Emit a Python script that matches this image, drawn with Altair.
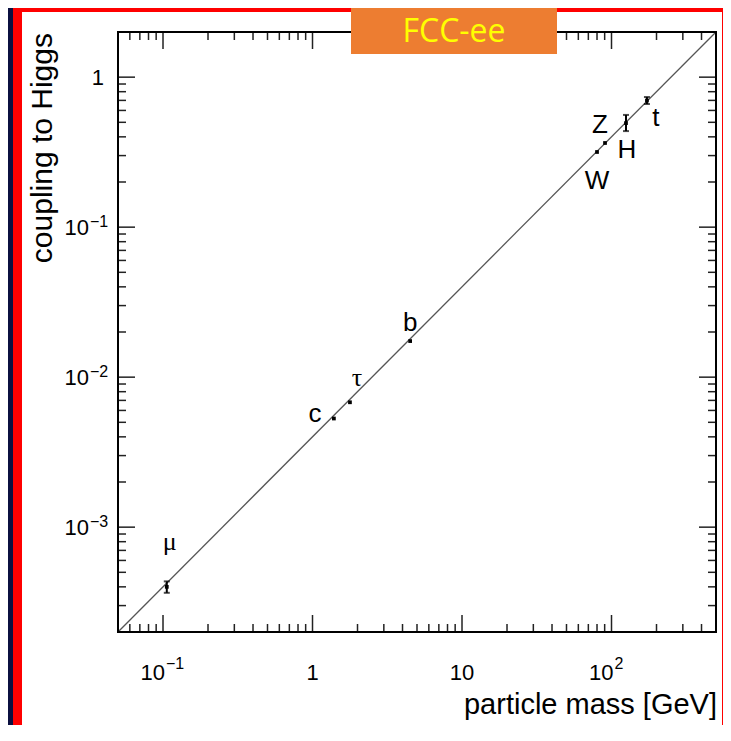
import altair as alt
import pandas as pd

# ---------------- data ----------------
particle = ["μ", "c", "τ", "b", "W", "Z", "H", "t"]
mass_gev = [0.106, 1.39, 1.78, 4.5, 80.0, 90.5, 125.0, 172.6]
coupling = [4.0e-4, 5.3e-3, 6.8e-3, 0.0174, 0.317, 0.364, 0.494, 0.698]

err_particle = ["μ", "H", "t"]
err_mass = [0.106, 125.0, 172.6]
err_low = [3.65e-4, 0.437, 0.662]
err_high = [4.35e-4, 0.56, 0.737]

line_mass = [0.05, 500.0]
line_coupling = [2.0e-4, 2.0]

x_major = [0.1, 1, 10, 100]
x_major_base = ["10", "1", "10", "10"]
x_major_exp = ["−1", "", "", "2"]
x_minor = [0.06, 0.07, 0.08, 0.09,
           0.2, 0.3, 0.4, 0.5, 0.6, 0.7, 0.8, 0.9,
           2, 3, 4, 5, 6, 7, 8, 9,
           20, 30, 40, 50, 60, 70, 80, 90,
           200, 300, 400]

y_major = [0.001, 0.01, 0.1, 1]
y_major_base = ["10", "10", "10", "1"]
y_major_exp = ["−3", "−2", "−1", ""]
y_minor = [3e-4, 4e-4, 5e-4, 6e-4, 7e-4, 8e-4, 9e-4,
           2e-3, 3e-3, 4e-3, 5e-3, 6e-3, 7e-3, 8e-3, 9e-3,
           0.02, 0.03, 0.04, 0.05, 0.06, 0.07, 0.08, 0.09,
           0.2, 0.3, 0.4, 0.5, 0.6, 0.7, 0.8, 0.9]

x_title = "particle mass [GeV]"
y_title = "coupling to Higgs"
badge_text = "FCC-ee"

# ---------------- layout / style ----------------
W, H = 598, 600
FONT = "Liberation Sans"
XS = alt.Scale(type="log", domain=[0.05, 500], nice=False)
YS = alt.Scale(type="log", domain=[2e-4, 2], nice=False)
one = pd.DataFrame({"a": [0]})

points = pd.DataFrame({"particle": particle, "mass": mass_gev, "coupling": coupling})
errs = pd.DataFrame({"particle": err_particle, "mass": err_mass, "lo": err_low, "hi": err_high})
line_df = pd.DataFrame({"mass": line_mass, "coupling": line_coupling})
xmaj = pd.DataFrame({"v": x_major, "base": x_major_base, "exp": x_major_exp})
ymaj = pd.DataFrame({"v": y_major, "base": y_major_base, "exp": y_major_exp})


def box(x0, x1, y0, y1, **kw):
    return alt.Chart(one).mark_rect(**kw).encode(
        x=alt.value(x0), x2=alt.value(x1), y=alt.value(y0), y2=alt.value(y1))


def xticks(vals, y0, y1):
    return alt.Chart(pd.DataFrame({"v": vals})).mark_rule(color="#222", strokeWidth=1.5).encode(
        x=alt.X("v:Q", scale=XS, axis=None), y=alt.value(y0), y2=alt.value(y1))


def yticks(vals, x0, x1):
    return alt.Chart(pd.DataFrame({"v": vals})).mark_rule(color="#222", strokeWidth=1.5).encode(
        y=alt.Y("v:Q", scale=YS, axis=None), x=alt.value(x0), x2=alt.value(x1))


layers = []
# slide background pieces
layers.append(box(-105, 640, -40, 760, color="#ff0000"))
layers.append(box(-96, 604, -20, 720, color="#ffffff"))

# diagonal line
layers.append(alt.Chart(line_df).mark_line(color="#555555", strokeWidth=1.3).encode(
    x=alt.X("mass:Q", scale=XS, axis=None), y=alt.Y("coupling:Q", scale=YS, axis=None)))

# inward ticks on all four sides
MAJ, MIN = 17, 8
layers += [
    xticks(x_major, H, H - MAJ), xticks(x_minor, H, H - MIN),
    xticks(x_major, 0, MAJ), xticks(x_minor, 0, MIN),
    yticks(y_major, 0, MAJ), yticks(y_minor, 0, MIN),
    yticks(y_major, W, W - MAJ), yticks(y_minor, W, W - MIN),
]

# frame
layers.append(box(0, W, 0, H, fillOpacity=0, stroke="black", strokeWidth=2))

# error bars
enc_x = alt.X("mass:Q", scale=XS, axis=None)
layers.append(alt.Chart(errs).mark_rule(color="black", strokeWidth=2).encode(
    x=enc_x, y=alt.Y("lo:Q", scale=YS, axis=None), y2="hi:Q"))
layers.append(alt.Chart(errs).mark_tick(color="black", orient="horizontal", size=6, thickness=2).encode(
    x=enc_x, y=alt.Y("lo:Q", scale=YS, axis=None)))
layers.append(alt.Chart(errs).mark_tick(color="black", orient="horizontal", size=6, thickness=2).encode(
    x=enc_x, y=alt.Y("hi:Q", scale=YS, axis=None)))

# points
layers.append(alt.Chart(points).mark_square(color="black", size=14, opacity=1).encode(
    x=enc_x, y=alt.Y("coupling:Q", scale=YS, axis=None)))

# particle labels
offsets = {"μ": (3, -37), "c": (-19, 3), "τ": (7, -16), "b": (0, -10),
           "W": (0, 37), "Z": (-5, -10), "H": (1, 35), "t": (9, 25)}
for name, (dx, dy) in offsets.items():
    serif = name in ("μ", "τ")
    layers.append(alt.Chart(points).transform_filter(alt.datum.particle == name).mark_text(
        font="Liberation Serif" if serif else FONT, fontSize=26,
        align="center", baseline="alphabetic", dx=dx, dy=dy, color="black").encode(
        x=enc_x, y=alt.Y("coupling:Q", scale=YS, axis=None), text="particle:N"))

# x tick labels
XB = 648
BL = "alphabetic"
layers.append(alt.Chart(xmaj).transform_filter("datum.exp == ''").mark_text(
    font=FONT, fontSize=22, align="center", baseline=BL, color="black").encode(
    x=alt.X("v:Q", scale=XS, axis=None), y=alt.value(XB), text="base:N"))
layers.append(alt.Chart(xmaj).transform_filter("datum.exp != ''").mark_text(
    font=FONT, fontSize=22, align="right", baseline=BL, dx=2, color="black").encode(
    x=alt.X("v:Q", scale=XS, axis=None), y=alt.value(XB), text="base:N"))
layers.append(alt.Chart(xmaj).transform_filter("datum.exp != ''").mark_text(
    font=FONT, fontSize=16, align="left", baseline=BL, dx=3, color="black").encode(
    x=alt.X("v:Q", scale=XS, axis=None), y=alt.value(XB - 11), text="exp:N"))

# y tick labels
layers.append(alt.Chart(ymaj).transform_filter("datum.exp == ''").mark_text(
    font=FONT, fontSize=22, align="right", baseline=BL, dy=8, color="black").encode(
    y=alt.Y("v:Q", scale=YS, axis=None), x=alt.value(-14), text="base:N"))
layers.append(alt.Chart(ymaj).transform_filter("datum.exp != ''").mark_text(
    font=FONT, fontSize=22, align="right", baseline=BL, dy=8, color="black").encode(
    y=alt.Y("v:Q", scale=YS, axis=None), x=alt.value(-29), text="base:N"))
layers.append(alt.Chart(ymaj).transform_filter("datum.exp != ''").mark_text(
    font=FONT, fontSize=16, align="left", baseline=BL, dy=0, color="black").encode(
    y=alt.Y("v:Q", scale=YS, axis=None), x=alt.value(-28), text="exp:N"))

# axis titles
layers.append(alt.Chart(pd.DataFrame({"t": [x_title]})).mark_text(
    font=FONT, fontSize=29, align="right", baseline="alphabetic", color="black").encode(
    x=alt.value(599), y=alt.value(682), text="t:N"))
layers.append(alt.Chart(pd.DataFrame({"t": [y_title]})).mark_text(
    font=FONT, fontSize=30, align="right", baseline="alphabetic", angle=270, color="black").encode(
    x=alt.value(-66), y=alt.value(1), text="t:N"))

# orange badge
layers.append(box(233, 439, -40, 22, color="#ED7D31"))
layers.append(alt.Chart(pd.DataFrame({"t": [badge_text]})).mark_text(
    font="Open Sans", fontSize=32, align="center", baseline="alphabetic", color="#FFFF00").encode(
    x=alt.value(336), y=alt.value(10), text="t:N"))

chart = alt.layer(*layers).properties(
    width=W, height=H,
    padding={"left": 110, "top": 24, "right": 7, "bottom": 93},
    autosize=alt.AutoSizeParams(type="none"),
    background="#0b1040",
).configure_view(stroke="transparent")

chart.save("out.html", embed_options={"renderer": "svg", "actions": False})
